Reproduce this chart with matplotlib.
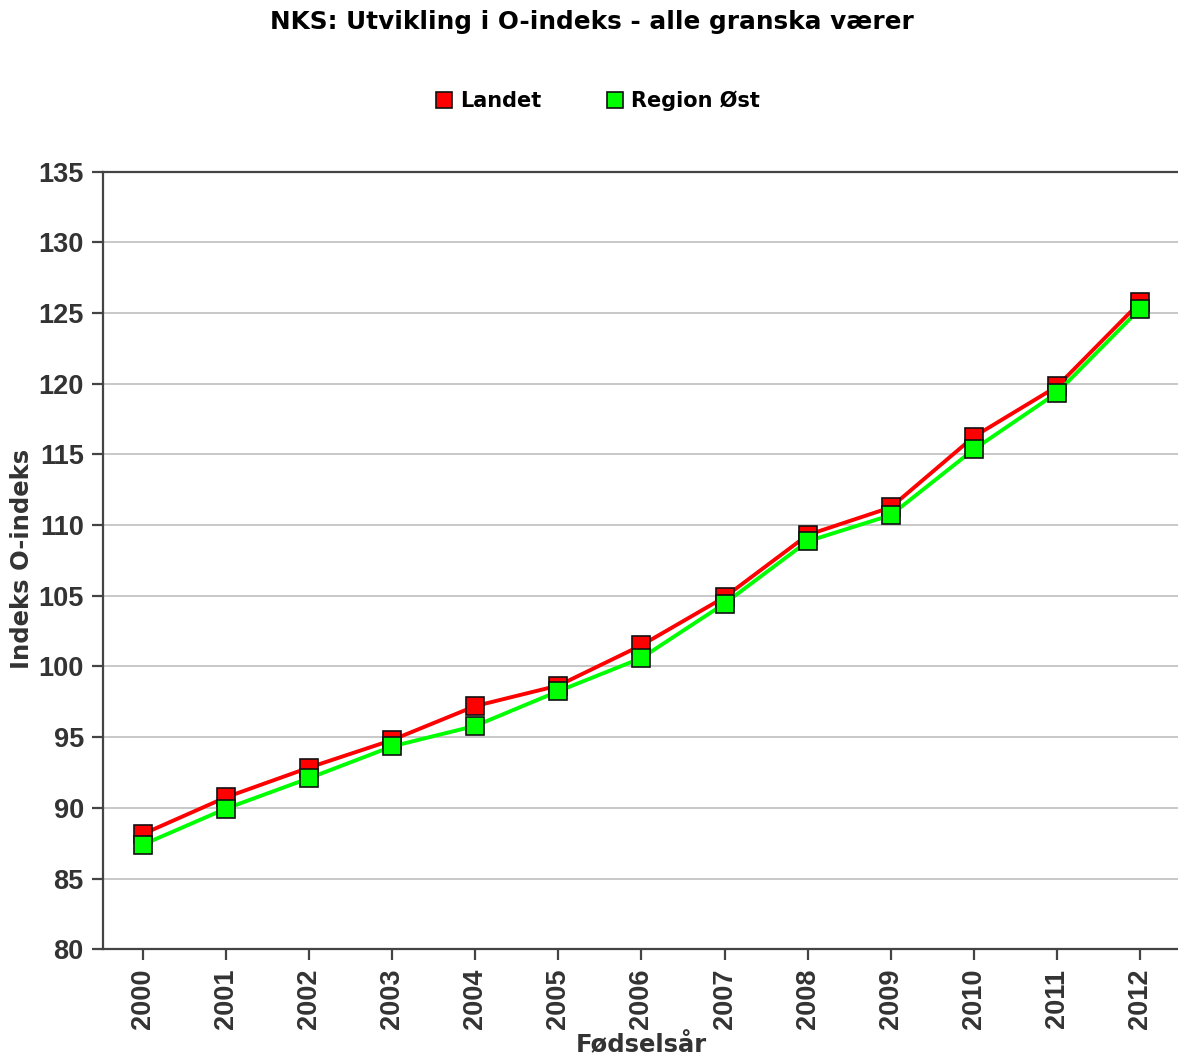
import matplotlib
matplotlib.use("Agg")
import matplotlib.pyplot as plt
from matplotlib.lines import Line2D

years = ["2000", "2001", "2002", "2003", "2004", "2005", "2006",
         "2007", "2008", "2009", "2010", "2011", "2012"]
landet = [88.15, 90.75, 92.85, 94.8, 97.2, 98.65, 101.5,
          104.9, 109.3, 111.25, 116.25, 119.8, 125.75]
region_ost = [87.4, 89.95, 92.1, 94.35, 95.8, 98.25, 100.6,
              104.45, 108.85, 110.7, 115.35, 119.35, 125.3]
yticks = [80, 85, 90, 95, 100, 105, 110, 115, 120, 125, 130, 135]

W, H = 1178, 1061
fig = plt.figure(figsize=(W / 100, H / 100), dpi=100)
fig.patch.set_facecolor("white")

left, right, bottom, top = 103.3, 1179.6, 949.3, 171.5
ax = fig.add_axes([left / W, 1 - bottom / H, (right - left) / W, (bottom - top) / H])

x = list(range(len(years)))
ax.plot(x, landet, color="#ff0000", lw=2.8, marker="s", ms=13,
        mfc="#ff0000", mec="#111111", mew=1.2, zorder=3, label="Landet")
ax.plot(x, region_ost, color="#00ff00", lw=2.8, marker="s", ms=13,
        mfc="#00ff00", mec="#111111", mew=1.2, zorder=4, label="Region Øst")

ax.set_xlim(-0.476, len(years) - 1 + 0.476)
ax.set_ylim(80, 135)
ax.set_yticks(yticks)
ax.set_xticks(x)
ax.set_xticklabels(years, rotation=90)

ax.yaxis.grid(True, color="#c8c8c8", lw=1.4)
ax.set_axisbelow(True)

for s in ["left", "bottom", "top"]:
    ax.spines[s].set_color("#444444")
    ax.spines[s].set_linewidth(1.6)
ax.spines["right"].set_visible(False)

for lab in ax.get_yticklabels() + ax.get_xticklabels():
    lab.set_fontfamily("Liberation Sans")
    lab.set_fontweight("bold")
    lab.set_fontsize(19.5)
    lab.set_color("#333333")
ax.tick_params(axis="both", direction="out", length=8, width=1.6,
               color="#444444", pad=6)

fig.text(0.5 * (272 + 912) / W, 1 - 22 / H, "NKS: Utvikling i O-indeks - alle granska værer",
         ha="center", va="center", fontsize=17.8, fontweight="bold",
         family="DejaVu Sans", color="#000000")

fig.text(22 / W, 1 - 559 / H, "Indeks O-indeks", rotation=90, ha="center", va="center",
         fontsize=17.5, fontweight="bold", family="DejaVu Sans", color="#333333")
fig.text(641 / W, 1 - 1045 / H, "Fødselsår", ha="center", va="center",
         fontsize=17.5, fontweight="bold", family="DejaVu Sans", color="#333333")

handles = [Line2D([], [], ls="none", marker="s", ms=11, mfc="#ff0000", mec="#111111", mew=1.2),
           Line2D([], [], ls="none", marker="s", ms=11, mfc="#00ff00", mec="#111111", mew=1.2)]
fig.legend(handles, ["Landet", "Region Øst"], loc="center", bbox_to_anchor=(599 / W, 1 - 101 / H),
           ncol=2, frameon=False, handlelength=0.6, handletextpad=0.5, columnspacing=3.2,
           prop=dict(family="DejaVu Sans", weight="bold", size=15))

fig.savefig("out.png", dpi=100, facecolor="white")
